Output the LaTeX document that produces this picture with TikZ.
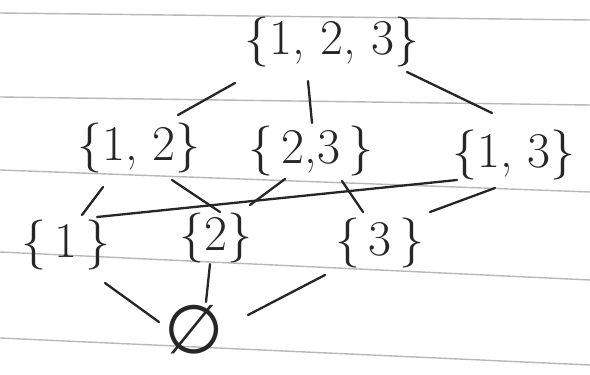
\documentclass[tikz,border=0pt]{standalone}
\usepackage{fontspec}
\newfontfamily\symfont{DejaVu Sans}
\usetikzlibrary{calc}
\definecolor{ink}{HTML}{262626}
\definecolor{rule}{HTML}{B8B8B8}
\begin{document}
\begin{tikzpicture}[x=1pt,y=-1pt,
  setnode/.style={inner sep=0pt, font=\fontsize{50}{55}\selectfont, text=ink},
  edge/.style={draw=ink, line width=2.3pt, line cap=round},
  paper/.style={draw=rule, line width=1.4pt}]
\useasboundingbox[fill=white] (0,0) rectangle (590,375);
% lined paper
\draw[paper] (0,13) -- (590,20);
\draw[paper] (0,97) -- (590,105);
\draw[paper] (0,170) -- (590,192);
\draw[paper] (0,252) -- (590,280);
\draw[paper] (0,338) -- (590,365);
% nodes
\node[setnode] (top) at (332,42) {\{1, 2, 3\}};
\node[setnode] (a12) at (139,148) {\{1, 2\}};
\node[setnode] (a23) at (311,151) {\{\,2,3\,\}};
\node[setnode] (a13) at (514,155) {\{1, 3\}};
\node[setnode] (a1) at (66,245) {\{\,1\,\}};
\node[setnode] (a2) at (216,238) {\{2\}};
\node[setnode] (a3) at (380,243) {\{\,3\,\}};
\node[setnode, font=\fontsize{68}{72}\symfont] (e) at (194,330) {∅};
% edges
\draw[edge] ([shift={(-97,41)}]top.center) -- ([shift={(39,-33)}]a12.center);
\draw[edge] ([shift={(-24,39)}]top.center) -- ([shift={(1,-28)}]a23.center);
\draw[edge] ([shift={(75,30)}]top.center) -- ([shift={(-22,-42)}]a13.center);
\draw[edge] ([shift={(-36,39)}]a12.center) -- ([shift={(16,-30)}]a1.center);
\draw[edge] ([shift={(33,32)}]a12.center) -- ([shift={(4,-26)}]a2.center);
\draw[edge] ([shift={(-26,28)}]a23.center) -- ([shift={(34,-33)}]a2.center);
\draw[edge] ([shift={(31,30)}]a23.center) -- ([shift={(-17,-31)}]a3.center);
\draw[edge] ([shift={(-57,25)}]a13.center) -- ([shift={(31,-28)}]a1.center);
\draw[edge] ([shift={(-19,33)}]a13.center) -- ([shift={(50,-31)}]a3.center);
\draw[edge] ([shift={(39,38)}]a1.center) -- ([shift={(-35,-8)}]e.center);
\draw[edge] ([shift={(-6,26)}]a2.center) -- ([shift={(12,-28)}]e.center);
\draw[edge] ([shift={(-55,32)}]a3.center) -- ([shift={(54,-15)}]e.center);
\end{tikzpicture}
\end{document}
